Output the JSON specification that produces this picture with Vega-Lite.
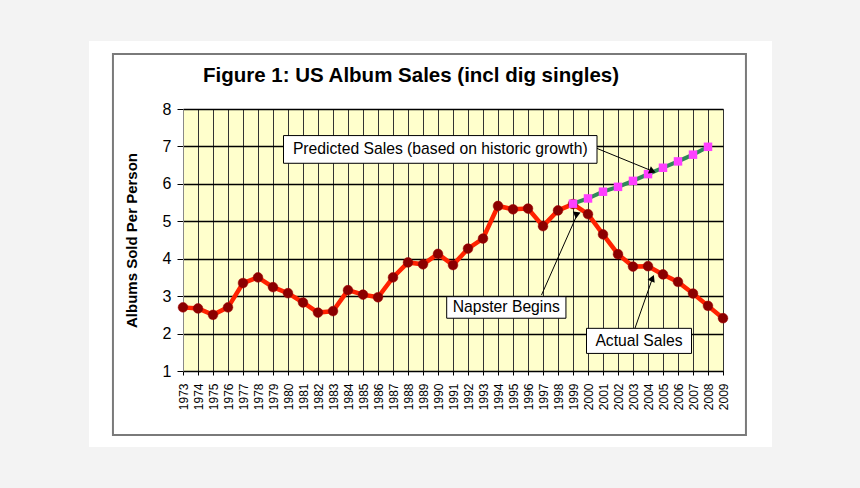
{
  "$schema": "https://vega.github.io/schema/vega-lite/v6.json",
  "autosize": {"type": "none"},
  "width": 540,
  "height": 262,
  "padding": {"left": 183, "top": 109, "right": 137, "bottom": 117},
  "background": "#ffffff",
  "config": {
    "font": "Liberation Sans",
    "view": {"fill": "#FFFFCC", "stroke": "#9a9a9a", "strokeWidth": 1}
  },
  "datasets": {
    "sales": [
      {"year": 1973, "series": "Actual", "value": 2.70},
      {"year": 1974, "series": "Actual", "value": 2.67},
      {"year": 1975, "series": "Actual", "value": 2.50},
      {"year": 1976, "series": "Actual", "value": 2.70},
      {"year": 1977, "series": "Actual", "value": 3.35},
      {"year": 1978, "series": "Actual", "value": 3.50},
      {"year": 1979, "series": "Actual", "value": 3.24},
      {"year": 1980, "series": "Actual", "value": 3.08},
      {"year": 1981, "series": "Actual", "value": 2.83},
      {"year": 1982, "series": "Actual", "value": 2.56},
      {"year": 1983, "series": "Actual", "value": 2.60},
      {"year": 1984, "series": "Actual", "value": 3.16},
      {"year": 1985, "series": "Actual", "value": 3.04},
      {"year": 1986, "series": "Actual", "value": 2.97},
      {"year": 1987, "series": "Actual", "value": 3.50},
      {"year": 1988, "series": "Actual", "value": 3.90},
      {"year": 1989, "series": "Actual", "value": 3.85},
      {"year": 1990, "series": "Actual", "value": 4.13},
      {"year": 1991, "series": "Actual", "value": 3.83},
      {"year": 1992, "series": "Actual", "value": 4.27},
      {"year": 1993, "series": "Actual", "value": 4.54},
      {"year": 1994, "series": "Actual", "value": 5.41},
      {"year": 1995, "series": "Actual", "value": 5.32},
      {"year": 1996, "series": "Actual", "value": 5.34},
      {"year": 1997, "series": "Actual", "value": 4.87},
      {"year": 1998, "series": "Actual", "value": 5.29},
      {"year": 1999, "series": "Actual", "value": 5.46},
      {"year": 2000, "series": "Actual", "value": 5.19},
      {"year": 2001, "series": "Actual", "value": 4.65},
      {"year": 2002, "series": "Actual", "value": 4.12},
      {"year": 2003, "series": "Actual", "value": 3.79},
      {"year": 2004, "series": "Actual", "value": 3.80},
      {"year": 2005, "series": "Actual", "value": 3.58},
      {"year": 2006, "series": "Actual", "value": 3.38},
      {"year": 2007, "series": "Actual", "value": 3.07},
      {"year": 2008, "series": "Actual", "value": 2.74},
      {"year": 2009, "series": "Actual", "value": 2.41},
      {"year": 1999, "series": "Predicted", "value": 5.47},
      {"year": 2000, "series": "Predicted", "value": 5.61},
      {"year": 2001, "series": "Predicted", "value": 5.79},
      {"year": 2002, "series": "Predicted", "value": 5.92},
      {"year": 2003, "series": "Predicted", "value": 6.08},
      {"year": 2004, "series": "Predicted", "value": 6.26},
      {"year": 2005, "series": "Predicted", "value": 6.43},
      {"year": 2006, "series": "Predicted", "value": 6.60},
      {"year": 2007, "series": "Predicted", "value": 6.78},
      {"year": 2008, "series": "Predicted", "value": 6.99}
    ],
    "notes": [
      {"key": "P", "label": "Predicted Sales (based on historic growth)", "bx1": 1979.7, "bx2": 2000.6, "by1": 7.29, "by2": 6.55, "tx": 1990.15, "ty": 6.92, "ax1": 2000.58, "ay1": 6.95, "ax2": 2004.3, "ay2": 6.34},
      {"key": "N", "label": "Napster Begins", "bx1": 1990.58, "bx2": 1998.53, "by1": 2.985, "by2": 2.41, "tx": 1994.55, "ty": 2.70, "ax1": 1996.9, "ay1": 3.03, "ax2": 1999.3, "ay2": 5.2},
      {"key": "A", "label": "Actual Sales", "bx1": 1999.9, "bx2": 2006.9, "by1": 2.14, "by2": 1.47, "tx": 2003.4, "ty": 1.80, "ax1": 2003.13, "ay1": 2.14, "ax2": 2004.3, "ay2": 3.48}
    ]
  },
  "layer": [
    {
      "data": {"values": [{}]},
      "mark": {"type": "rect", "fillOpacity": 0, "stroke": "#f3f3f3", "strokeWidth": 200, "clip": false},
      "encoding": {
        "x": {"datum": 1960.07, "type": "quantitative", "scale": {"domain": [1973, 2009], "zero": false, "nice": false}},
        "x2": {"datum": 2018.93},
        "y": {"datum": 12.488, "type": "quantitative", "scale": {"domain": [1, 8], "zero": false, "nice": false}},
        "y2": {"datum": -3.702}
      }
    },
    {
      "data": {"values": [{}]},
      "mark": {"type": "rect", "fillOpacity": 0, "stroke": "#7a7a7a", "strokeWidth": 2, "clip": false},
      "encoding": {
        "x": {"datum": 1968.33, "type": "quantitative"},
        "x2": {"datum": 2010.53},
        "y": {"datum": 9.469, "type": "quantitative"},
        "y2": {"datum": -0.71}
      }
    },
    {
      "data": {"values": [{"title": "Figure 1: US Album Sales (incl dig singles)"}]},
      "mark": {"type": "text", "fontSize": 20.5, "fontWeight": "bold", "color": "#000000", "align": "center", "baseline": "alphabetic", "clip": false},
      "encoding": {
        "x": {"datum": 1988.2, "type": "quantitative"},
        "y": {"datum": 8.72, "type": "quantitative"},
        "text": {"field": "title"}
      }
    },
    {
      "data": {"name": "sales"},
      "transform": [{"filter": "datum.series === 'Actual'"}],
      "mark": {"type": "line", "color": "#FF2200", "strokeWidth": 4.5},
      "encoding": {
        "x": {
          "field": "year", "type": "quantitative",
          "scale": {"domain": [1973, 2009], "zero": false, "nice": false},
          "axis": {
            "title": null,
            "values": [1973,1974,1975,1976,1977,1978,1979,1980,1981,1982,1983,1984,1985,1986,1987,1988,1989,1990,1991,1992,1993,1994,1995,1996,1997,1998,1999,2000,2001,2002,2003,2004,2005,2006,2007,2008,2009],
            "tickCount": 60,
            "format": "d",
            "labelAngle": 270,
            "labelFontSize": 12,
            "labelColor": "#000000",
            "labelPadding": 8,
            "labelOverlap": false,
            "labelFlush": false,
            "tickSize": 4,
            "tickColor": "#000000",
            "domainColor": "#000000",
            "domainWidth": 1,
            "grid": true,
            "gridColor": "#333333",
            "gridWidth": 1
          }
        },
        "y": {
          "field": "value", "type": "quantitative",
          "scale": {"domain": [1, 8], "zero": false, "nice": false},
          "axis": {
            "title": "Albums Sold Per Person",
            "titleFontSize": 15,
            "titleFontWeight": "bold",
            "titleColor": "#000000",
            "titleX": -52,
            "titleY": 131,
            "titleAlign": "center",
            "titleBaseline": "middle",
            "values": [1, 2, 3, 4, 5, 6, 7, 8],
            "tickCount": 20,
            "format": "d",
            "labelOverlap": false,
            "labelFontSize": 16,
            "labelColor": "#000000",
            "labelPadding": 6,
            "tickSize": 6,
            "tickColor": "#000000",
            "domainColor": "#888888",
            "grid": true,
            "gridColor": "#000000",
            "gridWidth": 1.3
          }
        }
      }
    },
    {
      "data": {"name": "sales"},
      "transform": [{"filter": "datum.series === 'Actual'"}],
      "mark": {"type": "circle", "size": 95, "fill": "#8B0000", "opacity": 1, "stroke": "#A00000", "strokeWidth": 0.5},
      "encoding": {
        "x": {"field": "year", "type": "quantitative"},
        "y": {"field": "value", "type": "quantitative"}
      }
    },
    {
      "data": {"name": "sales"},
      "transform": [{"filter": "datum.series === 'Predicted'"}],
      "mark": {"type": "line", "color": "#2E8B57", "strokeWidth": 4},
      "encoding": {
        "x": {"field": "year", "type": "quantitative"},
        "y": {"field": "value", "type": "quantitative"}
      }
    },
    {
      "data": {"name": "sales"},
      "transform": [{"filter": "datum.series === 'Predicted'"}],
      "mark": {"type": "square", "size": 72, "fill": "#FF40FF", "opacity": 1},
      "encoding": {
        "x": {"field": "year", "type": "quantitative"},
        "y": {"field": "value", "type": "quantitative"}
      }
    },
    {
      "data": {"name": "notes"},
      "mark": {"type": "rule", "color": "#000000", "strokeWidth": 1},
      "encoding": {
        "x": {"field": "ax1", "type": "quantitative"},
        "y": {"field": "ay1", "type": "quantitative"},
        "x2": {"field": "ax2"},
        "y2": {"field": "ay2"}
      }
    },
    {
      "data": {"name": "notes"},
      "mark": {"type": "point", "shape": "triangle-up", "filled": true, "size": 60, "color": "#000000", "opacity": 1},
      "encoding": {
        "x": {"field": "ax2", "type": "quantitative"},
        "y": {"field": "ay2", "type": "quantitative"},
        "angle": {"field": "key", "type": "nominal", "scale": {"domain": ["P", "N", "A"], "range": [112.5, 23.9, 19.5]}, "legend": null}
      }
    },
    {
      "data": {"name": "notes"},
      "mark": {"type": "rect", "fill": "#8a8a8a", "xOffset": 2, "yOffset": 2},
      "encoding": {
        "x": {"field": "bx1", "type": "quantitative"},
        "x2": {"field": "bx2"},
        "y": {"field": "by1", "type": "quantitative"},
        "y2": {"field": "by2"}
      }
    },
    {
      "data": {"name": "notes"},
      "mark": {"type": "rect", "fill": "#ffffff", "stroke": "#000000", "strokeWidth": 1},
      "encoding": {
        "x": {"field": "bx1", "type": "quantitative"},
        "x2": {"field": "bx2"},
        "y": {"field": "by1", "type": "quantitative"},
        "y2": {"field": "by2"}
      }
    },
    {
      "data": {"name": "notes"},
      "mark": {"type": "text", "fontSize": 15.7, "color": "#000000", "align": "center", "baseline": "middle"},
      "encoding": {
        "x": {"field": "tx", "type": "quantitative"},
        "y": {"field": "ty", "type": "quantitative"},
        "text": {"field": "label"}
      }
    }
  ]
}
